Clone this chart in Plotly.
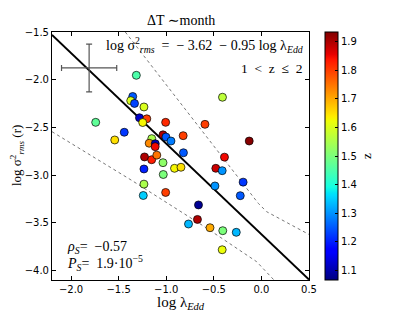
import plotly.graph_objects as go

# ---- data ----
log_lambda_edd = [-1.314, -1.352, -1.373, -1.333, -1.234, -1.281, -1.204, -1.247, -1.006, -1.741,
                  -1.441, -1.541, -1.034, -1.003, -0.950, -0.822, -1.152, -1.179, -1.115, -1.116,
                  -0.819, -1.228, -1.153, -1.099, -1.034, -1.234, -0.913, -0.845, -1.031, -1.234,
                  -1.241, -1.006, -0.661, -0.672, -0.766, -0.540, -0.409, -0.593, -0.128, -0.388,
                  -0.479, -0.412, -0.192, -0.488, -0.222, -0.406, -0.264, -0.412]
log_sigma_rms = [-1.954, -2.176, -2.220, -2.249, -2.286, -2.399, -2.410, -2.449, -2.447, -2.447,
                 -2.551, -2.632, -2.578, -2.601, -2.643, -2.587, -2.618, -2.666, -2.671, -2.702,
                 -2.766, -2.810, -2.839, -2.791, -2.870, -2.936, -2.929, -2.918, -2.994, -3.095,
                 -3.214, -3.182, -3.313, -3.465, -3.513, -3.552, -2.184, -2.468, -2.643, -2.812,
                 -2.929, -2.954, -3.074, -3.114, -3.216, -3.583, -3.600, -3.783]
redshift = [1.45, 1.25, 1.60, 1.23, 1.60, 1.12, 1.80, 1.63, 1.82, 1.47,
            1.22, 1.65, 1.90, 1.25, 1.28, 1.80, 1.55, 1.73, 1.10, 1.85,
            1.25, 1.90, 1.83, 1.75, 1.52, 1.20, 1.63, 1.65, 1.50, 1.55,
            1.35, 1.80, 1.08, 1.90, 1.33, 1.70, 1.57, 1.80, 1.93, 1.85,
            1.88, 1.30, 1.22, 1.30, 1.25, 1.50, 1.33, 1.62]

fit_intercept = -3.62
fit_slope = -0.95
fit_x = [-2.2, 0.5]

upper_band_x = [-1.43, -0.698, -0.383, -0.033, 0.055, 0.51]
upper_band_y = [-1.50, -2.440, -2.842, -3.296, -3.384, -3.628]
lower_band_x = [-2.2, -1.370, -0.593, -0.050, 0.132]
lower_band_y = [-2.545, -3.051, -3.544, -3.908, -4.10]

err_x, err_y = [-1.81], [-1.877]
err_dx, err_dy = [0.29], [0.25]

x_ticks = [-2.0, -1.5, -1.0, -0.5, 0.0, 0.5]
y_ticks = [-4.0, -3.5, -3.0, -2.5, -2.0, -1.5]
z_ticks = [1.1, 1.2, 1.3, 1.4, 1.5, 1.6, 1.7, 1.8, 1.9]

# matplotlib-like jet
jet = [[0.0, 'rgb(0,0,128)'], [0.11, 'rgb(0,0,255)'], [0.125, 'rgb(0,0,255)'],
       [0.34, 'rgb(0,219,255)'], [0.35, 'rgb(0,229,247)'], [0.375, 'rgb(21,255,226)'],
       [0.64, 'rgb(238,255,8)'], [0.65, 'rgb(247,246,0)'], [0.66, 'rgb(255,236,0)'],
       [0.89, 'rgb(255,19,0)'], [0.91, 'rgb(232,0,0)'], [1.0, 'rgb(128,0,0)']]

SERIF = "Liberation Serif, DejaVu Serif, serif"
SANS = "DejaVu Sans, sans-serif"
EN = "\u2002"
NB = "\u00a0"

fig = go.Figure()

fit_y = [fit_intercept + fit_slope * v for v in fit_x]
fig.add_trace(go.Scatter(x=fit_x, y=fit_y, mode="lines",
                         line=dict(color="black", width=2), hoverinfo="skip"))
fig.add_trace(go.Scatter(x=upper_band_x, y=upper_band_y, mode="lines",
                         line=dict(color="#777777", width=1, dash="dot"), hoverinfo="skip"))
fig.add_trace(go.Scatter(x=lower_band_x, y=lower_band_y, mode="lines",
                         line=dict(color="#777777", width=1, dash="dot"), hoverinfo="skip"))
fig.add_trace(go.Scatter(x=err_x, y=err_y, mode="markers",
                         marker=dict(size=1, color="rgba(0,0,0,0)"),
                         error_x=dict(type="data", array=err_dx, color="#555555", thickness=1.2, width=3),
                         error_y=dict(type="data", array=err_dy, color="#555555", thickness=1.2, width=3),
                         hoverinfo="skip"))
fig.add_trace(go.Scatter(
    x=log_lambda_edd, y=log_sigma_rms, mode="markers",
    marker=dict(size=8, color=redshift, colorscale=jet, cmin=1.065, cmax=1.935,
                line=dict(color="black", width=0.7),
                colorbar=dict(x=(325 - 52) / 257, xanchor="left", xpad=0, ypad=0,
                              y=0.5, yanchor="middle", len=1.0, lenmode="fraction",
                              thickness=13, outlinecolor="black", outlinewidth=1,
                              tickvals=z_ticks, ticktext=[f"{t:.1f}" for t in z_ticks],
                              ticks="inside", ticklen=3, tickcolor="black",
                              tickfont=dict(family=SANS, size=10, color="black"),
                              title=dict(text="z", side="right",
                                         font=dict(family=SERIF, size=13, color="black"))))))

axis_common = dict(showline=True, linecolor="black", linewidth=1, mirror="ticks",
                   ticks="inside", ticklen=4, tickcolor="black", showgrid=False, zeroline=False,
                   tickfont=dict(family=SANS, size=10, color="black"))
fig.update_xaxes(range=[-2.2, 0.5], tickvals=x_ticks, ticktext=[f"{t:.1f}".replace("-", "−") for t in x_ticks],
                 **axis_common)
fig.update_yaxes(range=[-4.1, -1.5], tickvals=y_ticks, ticktext=[f"{t:.1f}".replace("-", "−") for t in y_ticks],
                 **axis_common)

annotations = [
    dict(text="ΔT ∼month", x=0.5, y=1 + 11 / 248, xref="paper", yref="paper",
         xanchor="center", yanchor="middle",
         showarrow=False, font=dict(family=SERIF, size=14, color="black")),
    dict(text=f"log σ<sup>2</sup><sub><i>rms</i></sub>{EN}={EN}−{NB}3.62{EN}−{NB}0.95 log λ<sub><i>Edd</i></sub>",
         x=0.985, y=1 - 13 / 248, xref="paper", yref="paper", xanchor="right", yanchor="middle",
         showarrow=False, font=dict(family=SERIF, size=14, color="black")),
    dict(text=f"1{EN}&lt;{EN}z{EN}≤{EN}2", x=0.985, y=1 - 37 / 248, xref="paper", yref="paper", xanchor="right",
         yanchor="middle", showarrow=False, font=dict(family=SERIF, size=13.5, color="black")),
    dict(text=f"<i>ρ</i><sub><i>S</i></sub>={EN}−0.57", x=0.05, y=0.13, xref="paper", yref="paper",
         xanchor="left", yanchor="middle", showarrow=False,
         font=dict(family=SERIF, size=14, color="black")),
    dict(text=f"<i>P</i><sub><i>S</i></sub>={EN}1.9·10<sup>−5</sup>", x=0.05, y=0.068, xref="paper",
         yref="paper", xanchor="left", yanchor="middle", showarrow=False,
         font=dict(family=SERIF, size=14, color="black")),
    dict(text="log λ<sub><i>Edd</i></sub>", x=0.5, y=-23 / 248, xref="paper", yref="paper",
         xanchor="center", yanchor="middle", showarrow=False,
         font=dict(family=SERIF, size=15, color="black")),
    dict(text="log σ<sup>2</sup><sub><i>rms</i></sub> (r)", x=-35 / 257, y=0.5, xref="paper",
         yref="paper", xanchor="center", yanchor="middle", textangle=-90, showarrow=False,
         font=dict(family=SERIF, size=13, color="black")),
]

# page body has an 8px default margin; size the figure so the plot area lands
# at the same pixel position as in the reference
fig.update_layout(width=399, height=304, margin=dict(l=44, r=98, t=24, b=32),
                  paper_bgcolor="white", plot_bgcolor="white", showlegend=False,
                  annotations=annotations)

fig.write_html("out.html")
